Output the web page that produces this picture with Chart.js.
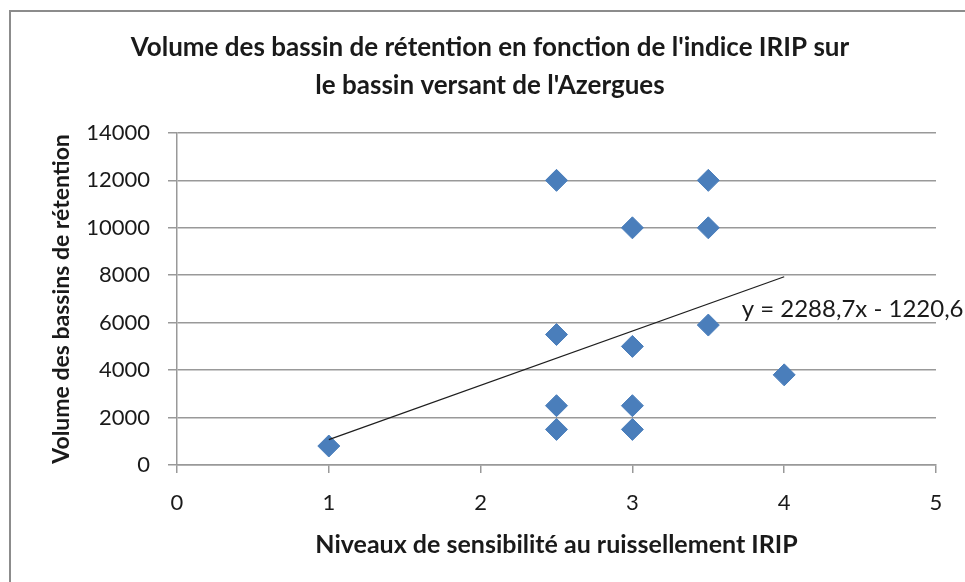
<!DOCTYPE html>
<html>
<head>
<meta charset="utf-8">
<script src="https://cdn.jsdelivr.net/npm/chart.js@4/dist/chart.umd.min.js"></script>
<style>
  html, body { margin: 0; padding: 0; background: #fff; }
  #wrap { width: 965px; height: 582px; position: relative; }
</style>
</head>
<body>
<div id="wrap"><canvas id="chart"></canvas></div>
<script>
// IRIP level of each basin and its retention volume (m3)
const irip = [1, 2.5, 2.5, 2.5, 2.5, 3, 3, 3, 3, 3.5, 3.5, 3.5, 4];
const volumes = [800, 12000, 5500, 2500, 1500, 10000, 5000, 2500, 1500, 12000, 10000, 5900, 3800];

// linear trend shown on the chart
const trendSlope = 2288.7;
const trendIntercept = -1220.6;
const trendRange = [1, 4];
const trendLabel = 'y = 2288,7x - 1220,6';

const xTicks = [0, 1, 2, 3, 4, 5];
const yTicks = [0, 2000, 4000, 6000, 8000, 10000, 12000, 14000];

const gridColor = '#999999';
const textColor = '#1a1a1a';
const fontFamily = 'Lato, "Open Sans", sans-serif';

const trendPoints = trendRange.map(x => ({ x: x, y: trendSlope * x + trendIntercept }));

// outer frame of the chart object + trend equation text
const decorations = {
    id: 'decorations',
    beforeDraw(chart) {
        const ctx = chart.ctx;
        ctx.save();
        ctx.strokeStyle = '#8c8c8c';
        ctx.lineWidth = 2;
        ctx.beginPath();
        ctx.moveTo(10, chart.height);
        ctx.lineTo(10, 11);
        ctx.lineTo(chart.width, 11);
        ctx.stroke();
        ctx.restore();
    },
    afterDatasetsDraw(chart) {
        const ctx = chart.ctx;
        const xs = chart.scales.x;
        const ys = chart.scales.y;
        ctx.save();
        ctx.font = '24px ' + fontFamily;
        ctx.fillStyle = textColor;
        ctx.textAlign = 'left';
        ctx.textBaseline = 'middle';
        ctx.fillText(trendLabel, xs.getPixelForValue(3.72), ys.getPixelForValue(6550));
        ctx.restore();
    }
};

new Chart(document.getElementById('chart'), {
    type: 'scatter',
    data: {
        datasets: [
            {
                label: 'Volume',
                data: irip.map((x, i) => ({ x: x, y: volumes[i] })),
                pointStyle: 'rectRot',
                pointRadius: 11,
                pointHoverRadius: 11,
                backgroundColor: '#4a7ebb',
                borderColor: '#4a7ebb',
                borderWidth: 1,
                order: 2
            },
            {
                label: 'Tendance',
                data: trendPoints,
                showLine: true,
                pointRadius: 0,
                borderColor: '#1e1e1e',
                borderWidth: 1.2,
                order: 1
            }
        ]
    },
    options: {
        responsive: true,
        maintainAspectRatio: false,
        animation: false,
        layout: { padding: { left: 15, right: 0, top: 0, bottom: 0 } },
        plugins: {
            legend: { display: false },
            tooltip: { enabled: false },
            title: {
                display: true,
                text: ["Volume des bassin de rétention en fonction de l'indice IRIP sur",
                       "le bassin versant de l'Azergues"],
                color: textColor,
                font: { family: fontFamily, size: 26, weight: 'bold', lineHeight: 1.46 },
                padding: { top: 29, bottom: 28 }
            }
        },
        scales: {
            x: {
                type: 'linear',
                min: 0,
                max: 5,
                afterBuildTicks: axis => { axis.ticks = xTicks.map(v => ({ value: v })); },
                afterFit: axis => { axis.height = 117; },
                grid: { display: true, drawOnChartArea: false, color: gridColor, lineWidth: 1.5, tickLength: 8 },
                border: { color: gridColor, width: 1.5 },
                ticks: { color: textColor, font: { family: fontFamily, size: 22 }, padding: 17 },
                title: {
                    display: true,
                    text: 'Niveaux de sensibilité au ruissellement IRIP',
                    color: textColor,
                    font: { family: fontFamily, size: 25, weight: 'bold' },
                    padding: { bottom: 22 }
                }
            },
            y: {
                type: 'linear',
                min: 0,
                max: 14000,
                afterBuildTicks: axis => { axis.ticks = yTicks.map(v => ({ value: v })); },
                afterFit: axis => { axis.width = 162; },
                grid: { color: gridColor, lineWidth: 1.5, tickLength: 9 },
                border: { color: gridColor, width: 1.5 },
                ticks: {
                    color: textColor,
                    font: { family: fontFamily, size: 22 },
                    padding: 18,
                    callback: v => String(v)
                },
                title: {
                    display: true,
                    text: 'Volume des bassins de rétention',
                    color: textColor,
                    font: { family: fontFamily, size: 23, weight: 'bold' },
                    padding: { top: 33 }
                }
            },
            // empty right-hand strip so the plot stops short of the edge
            spacer: {
                type: 'linear',
                position: 'right',
                display: true,
                afterFit: axis => { axis.width = 29; },
                grid: { display: false },
                border: { display: false },
                ticks: { display: false }
            }
        }
    },
    plugins: [decorations]
});
</script>
</body>
</html>
